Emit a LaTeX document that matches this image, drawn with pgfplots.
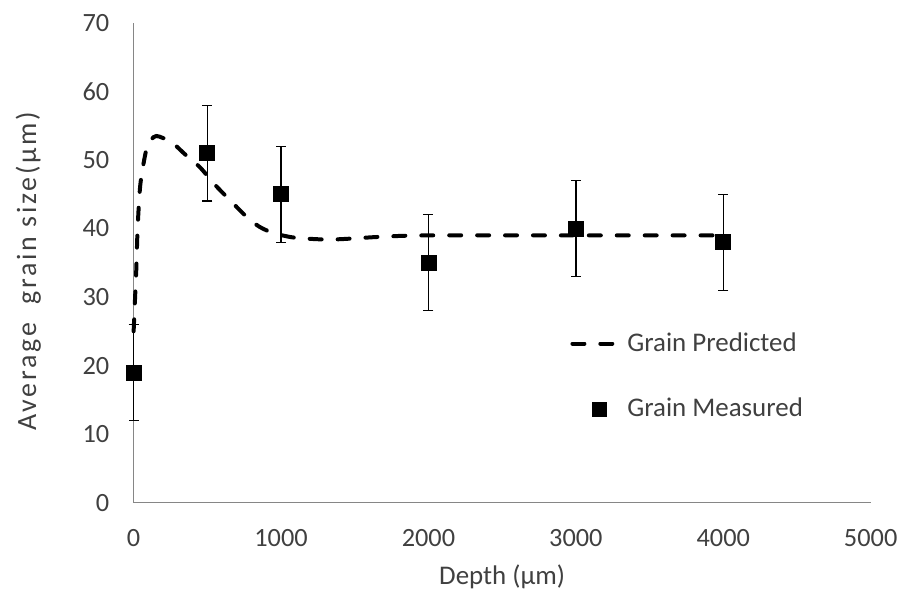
\documentclass[border=0pt]{standalone}
\usepackage{pgfplots}
\pgfplotsset{compat=1.18}
\usepackage{fontspec}
\setmainfont{Carlito}
\definecolor{txt}{RGB}{64,64,64}
\definecolor{axisgray}{RGB}{134,134,134}
\begin{document}
\begin{tikzpicture}
\begin{axis}[
  scale only axis, width=369.5bp, height=240.5bp,
  xmin=0, xmax=5000, ymin=0, ymax=70,
  xtick={0,1000,...,5000}, ytick={0,10,...,70},
  axis x line=bottom, axis y line=left,
  axis line style={-, axisgray, line width=0.6bp},
  major tick length=0pt,
  clip=false,
  tick label style={font=\fontsize{13.2bp}{15bp}\selectfont, text=txt},
  /pgf/number format/assume math mode=true,
  /pgf/number format/1000 sep={},
  xticklabel style={yshift=-10bp},
  yticklabel style={xshift=-8.7bp},
  label style={font=\fontsize{13.5bp}{15bp}\selectfont, text=txt},
  xlabel={Depth (µm)},
  ylabel={\addfontfeature{LetterSpace=10}Average\ \ grain size(µm)},
  xlabel style={at={(axis description cs:0.5,-0.154)}, anchor=center},
  ylabel style={at={(axis description cs:-0.1428,0.482)}, anchor=center,
    font=\fontsize{14bp}{16bp}\selectfont},
  legend style={draw=none, fill=none, at={(rel axis cs:0.584,0.3717)}, anchor=north west,
    font=\fontsize{13.5bp}{15bp}\selectfont, text=txt, row sep=18bp},
  legend cell align=left,
]
% invisible frame for the page size
\path[draw=none] (rel axis cs:-0.1813,-0.185) rectangle (rel axis cs:1.042,1.0478);

\addplot[black, line width=2bp, dash pattern=on 6bp off 8bp, line cap=round, smooth,
  legend image code/.code={\draw (0bp,0bp) -- (21bp,0bp); \path[draw=none] (25.5bp,0bp);}]
  table {
x y
0 25
10 30
18 34
27 40
40 45
52 47.5
86 51.5
120 53
154 53.5
200 53.2
264 52.5
350 50.8
447 49
560 46.2
660 44
762 41.8
850 40.3
940 39.4
1030 38.9
1123 38.6
1346 38.4
1685 38.8
2000 39
3000 39
4000 39
};
\addlegendentry{Grain Predicted}

\addplot[black, only marks, mark=square*, mark size=3.75bp,
  legend image code/.code={\path[draw=none] (0bp,0bp) (25.5bp,0bp); \path[draw=none, fill=black] (10bp,-3.75bp) rectangle (17.5bp,3.75bp);},
  error bars/.cd, y dir=both, y explicit,
  error bar style={line width=0.65bp, black},
  error mark options={rotate=90, mark size=2.5bp, line width=0.65bp, black}]
  table[x=x, y=y, y error=e] {
x y e
0 19 7
500 51 7
1000 45 7
2000 35 7
3000 40 7
4000 38 7
};
\addlegendentry{Grain Measured}
\end{axis}
\end{tikzpicture}
\end{document}
